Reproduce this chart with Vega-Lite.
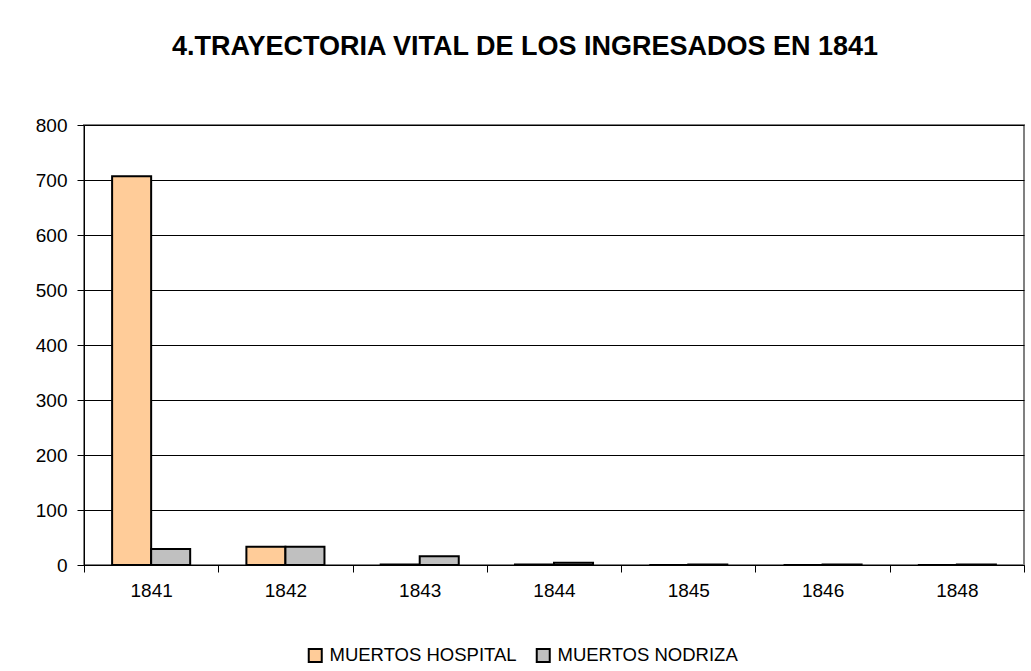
{
  "$schema": "https://vega.github.io/schema/vega-lite/v6.json",
  "width": 940,
  "height": 440,
  "autosize": {"type": "none"},
  "padding": {"left": 84, "top": 125, "right": 7, "bottom": 106},
  "background": "white",
  "title": {
    "text": "4.TRAYECTORIA VITAL DE LOS INGRESADOS EN 1841",
    "font": "Liberation Sans",
    "fontSize": 27,
    "fontWeight": "bold",
    "color": "black",
    "anchor": "middle",
    "dx": -29,
    "offset": 55
  },
  "data": {
    "values": [
      {"year": "1841", "serie": "MUERTOS HOSPITAL", "value": 707},
      {"year": "1841", "serie": "MUERTOS NODRIZA", "value": 29},
      {"year": "1842", "serie": "MUERTOS HOSPITAL", "value": 33},
      {"year": "1842", "serie": "MUERTOS NODRIZA", "value": 33},
      {"year": "1843", "serie": "MUERTOS HOSPITAL", "value": 1},
      {"year": "1843", "serie": "MUERTOS NODRIZA", "value": 16},
      {"year": "1844", "serie": "MUERTOS HOSPITAL", "value": 1},
      {"year": "1844", "serie": "MUERTOS NODRIZA", "value": 4},
      {"year": "1845", "serie": "MUERTOS HOSPITAL", "value": 0},
      {"year": "1845", "serie": "MUERTOS NODRIZA", "value": 1},
      {"year": "1846", "serie": "MUERTOS HOSPITAL", "value": 0},
      {"year": "1846", "serie": "MUERTOS NODRIZA", "value": 1},
      {"year": "1848", "serie": "MUERTOS HOSPITAL", "value": 0},
      {"year": "1848", "serie": "MUERTOS NODRIZA", "value": 1}
    ]
  },
  "mark": {"type": "bar", "stroke": "black", "strokeWidth": 2},
  "encoding": {
    "x": {
      "field": "year",
      "type": "nominal",
      "title": null,
      "scale": {"paddingInner": 0, "paddingOuter": 0},
      "axis": {
        "labelAngle": 0,
        "tickBand": "extent",
        "tickColor": "black",
        "tickSize": 7,
        "domainColor": "black",
        "labelFont": "Liberation Sans",
        "labelFontSize": 19,
        "labelColor": "black",
        "labelPadding": 9
      }
    },
    "xOffset": {
      "field": "serie",
      "type": "nominal",
      "scale": {"paddingInner": 0, "paddingOuter": 0.72}
    },
    "y": {
      "field": "value",
      "type": "quantitative",
      "title": null,
      "scale": {"domain": [0, 800], "nice": false},
      "axis": {
        "values": [0, 100, 200, 300, 400, 500, 600, 700, 800],
        "grid": true,
        "gridColor": "black",
        "gridOpacity": 1,
        "gridWidth": 1,
        "domainColor": "black",
        "tickColor": "black",
        "tickSize": 7,
        "labelFont": "Liberation Sans",
        "labelFontSize": 19,
        "labelColor": "black",
        "labelPadding": 10
      }
    },
    "color": {
      "field": "serie",
      "type": "nominal",
      "title": null,
      "scale": {"domain": ["MUERTOS HOSPITAL", "MUERTOS NODRIZA"], "range": ["#FFCC99", "#C0C0C0"]},
      "legend": {
        "orient": "none",
        "legendX": 222,
        "legendY": 521,
        "direction": "horizontal",
        "symbolType": "square",
        "symbolSize": 169,
        "symbolStrokeColor": "black",
        "symbolStrokeWidth": 2,
        "labelFont": "Liberation Sans",
        "labelFontSize": 18.5,
        "labelColor": "black",
        "labelLimit": 0,
        "columnPadding": 15,
        "labelOffset": 5
      }
    }
  },
  "config": {
    "view": {"stroke": "#808080", "strokeWidth": 2}
  }
}
